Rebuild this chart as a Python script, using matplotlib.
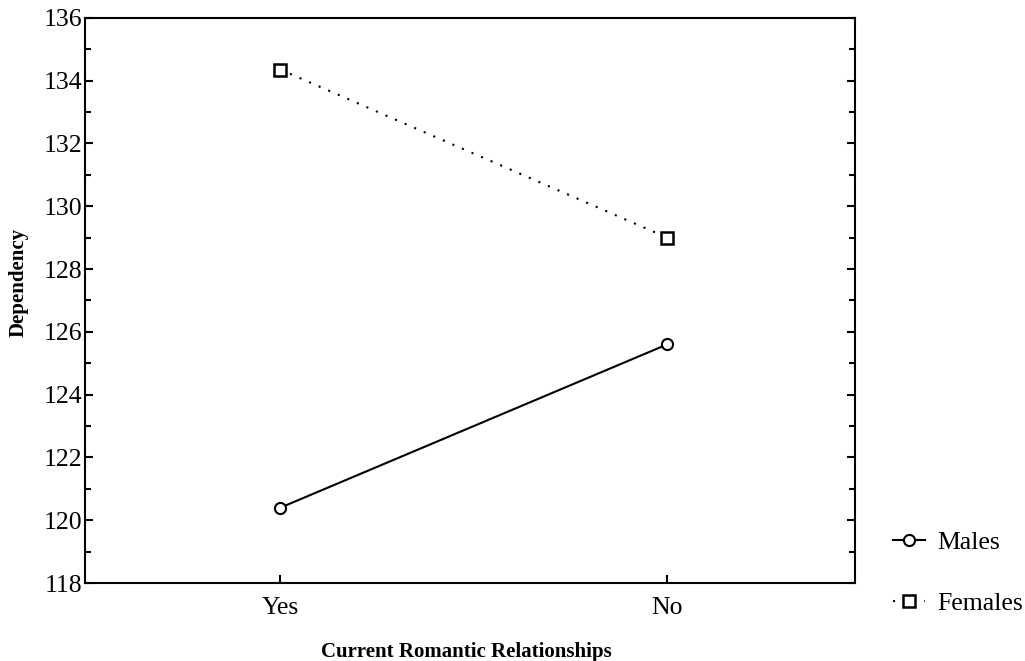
import matplotlib.pyplot as plt
from matplotlib.ticker import MultipleLocator

plt.rcParams['font.family'] = ['Liberation Serif', 'DejaVu Serif']

categories = ["Yes", "No"]
males = [120.4, 125.6]
females = [134.35, 129.0]
yticks = [118, 120, 122, 124, 126, 128, 130, 132, 134, 136]

fig = plt.figure(figsize=(10.25, 6.61), dpi=100)
ax = fig.add_axes([0.083, 0.118, 0.751, 0.855])

x = list(range(len(categories)))
ax.plot(x, males, color='black', linestyle='-', linewidth=1.5, marker='o',
        markersize=8, markerfacecolor='white', markeredgecolor='black',
        markeredgewidth=1.5, label='Males')
ax.plot(x, females, color='black', linestyle=(0, (1, 4)), linewidth=1.5, marker='s',
        markersize=8, markerfacecolor='white', markeredgecolor='black',
        markeredgewidth=1.8, label='Females')

ax.set_xlim(-0.505, 1.485)
ax.set_ylim(118, 136)
ax.set_xticks(x)
ax.set_xticklabels(categories)
ax.set_yticks(yticks)
ax.yaxis.set_minor_locator(MultipleLocator(1))
ax.tick_params(axis='both', which='both', direction='in', labelsize=18.5,
               right=True, width=1.5)
ax.tick_params(axis='both', which='major', length=6)
ax.tick_params(axis='y', which='minor', length=4)
ax.tick_params(axis='x', pad=10)
ax.tick_params(axis='y', pad=2)
for s in ax.spines.values():
    s.set_linewidth(1.5)

ax.set_ylabel("Dependency", fontsize=15, fontweight='bold')
ax.set_xlabel("Current Romantic Relationships", fontsize=15, fontweight='bold')
ax.yaxis.set_label_coords(-0.073, 0.531)
ax.xaxis.set_label_coords(0.495, -0.104)

fig.legend(loc='upper left', bbox_to_anchor=(0.849, 0.232), frameon=False,
           fontsize=18.5, labelspacing=1.5, handlelength=1.25, handletextpad=0.45,
           borderpad=0.4)

fig.savefig('out.png', dpi=100)
